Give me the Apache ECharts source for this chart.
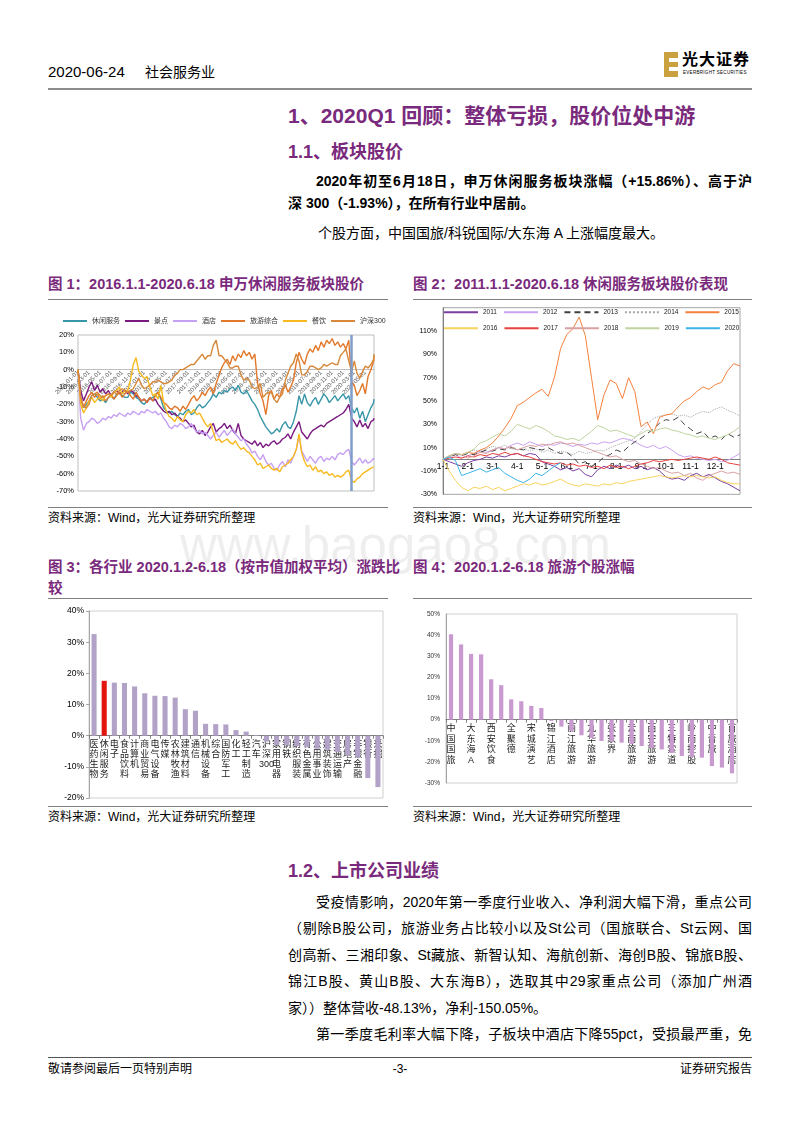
<!DOCTYPE html>
<html lang="zh-CN">
<head>
<meta charset="utf-8">
<title>社会服务业</title>
<script src="https://cdn.jsdelivr.net/npm/echarts@6.0.0/dist/echarts.min.js"></script>
<style>
html,body{margin:0;padding:0;background:#fff;}
#page{position:relative;width:800px;height:1132px;overflow:hidden;background:#fff;font-family:"Liberation Sans","Noto Sans CJK SC",sans-serif;color:#000;}
.t{position:absolute;white-space:nowrap;}
.ln{position:absolute;height:0;border-top:1px solid #808080;}
.pur{color:#7A2A7C;font-weight:bold;}
.fig{font-size:14.5px;line-height:20px;}
.src{font-size:12px;line-height:18px;}
.body{font-size:14px;line-height:22px;}
.j{white-space:normal;text-align:justify;text-align-last:justify;text-justify:inter-character;height:22px;overflow:hidden;}
.chart{position:absolute;}
</style>
</head>
<body>
<div id="page">
  <!-- watermark -->
  <div class="t" style="left:180px;top:520px;font-size:51px;line-height:51px;color:rgba(0,0,0,0.065);font-family:'Liberation Sans';">www.baogao8.com</div>

  <!-- header -->
  <div class="t" style="left:48px;top:62px;font-size:15px;line-height:20px;">2020-06-24</div>
  <div class="t" style="left:145px;top:62px;font-size:14px;line-height:20px;">社会服务业</div>
  <div style="position:absolute;left:664px;top:52px;width:14px;height:25px;background:#C9A23F;"></div>
  <div style="position:absolute;left:669px;top:58px;width:9px;height:4px;background:#fff;"></div>
  <div style="position:absolute;left:669px;top:67px;width:9px;height:4px;background:#fff;"></div>
  <div class="t" style="left:682px;top:50px;font-size:16px;line-height:20px;font-weight:bold;letter-spacing:1px;">光大证券</div>
  <div class="t" style="left:683px;top:70px;font-size:4.5px;line-height:6px;letter-spacing:0.3px;">EVERBRIGHT SECURITIES</div>
  <div class="ln" style="left:48px;top:88px;width:704px;border-top:2px solid #8C8C8C;"></div>

  <!-- section 1 -->
  <div class="t pur" style="left:288px;top:101px;font-size:21px;line-height:30px;">1、2020Q1 回顾：整体亏损，股价位处中游</div>
  <div class="t pur" style="left:288px;top:139px;font-size:18px;line-height:26px;">1.1、板块股价</div>
  <div class="t body j" style="left:316px;width:436px;top:170px;font-weight:bold;">2020年初至6月18日，申万休闲服务板块涨幅（+15.86%）、高于沪</div>
  <div class="t body" style="left:288px;top:192px;font-weight:bold;">深 300（-1.93%），在所有行业中居前。</div>
  <div class="t body" style="left:318px;top:222px;">个股方面，中国国旅/科锐国际/大东海 A 上涨幅度最大。</div>

  <!-- figure 1 / 2 titles -->
  <div class="t pur fig" style="left:48px;top:274px;">图 1：2016.1.1-2020.6.18 申万休闲服务板块股价</div>
  <div class="t pur fig" style="left:413px;top:274px;">图 2：2011.1.1-2020.6.18 休闲服务板块股价表现</div>
  <div class="ln" style="left:48px;top:299px;width:340px;"></div>
  <div class="ln" style="left:413px;top:299px;width:339px;"></div>
  <div id="c1" class="chart" style="left:48px;top:300px;width:340px;height:206px;"></div>
  <div id="c2" class="chart" style="left:413px;top:300px;width:339px;height:206px;"></div>
  <div class="ln" style="left:48px;top:507px;width:340px;"></div>
  <div class="ln" style="left:413px;top:507px;width:339px;"></div>
  <div class="t src" style="left:48px;top:509px;">资料来源：Wind，光大证券研究所整理</div>
  <div class="t src" style="left:413px;top:509px;">资料来源：Wind，光大证券研究所整理</div>

  <!-- figure 3 / 4 titles -->
  <div class="t pur fig" style="left:48px;top:557px;">图 3：各行业 2020.1.2-6.18（按市值加权平均）涨跌比</div>
  <div class="t pur fig" style="left:48px;top:578px;">较</div>
  <div class="t pur fig" style="left:413px;top:557px;">图 4：2020.1.2-6.18 旅游个股涨幅</div>
  <div class="ln" style="left:48px;top:598px;width:340px;"></div>
  <div class="ln" style="left:413px;top:598px;width:339px;"></div>
  <div id="c3" class="chart" style="left:48px;top:600px;width:340px;height:206px;"></div>
  <div id="c4" class="chart" style="left:413px;top:600px;width:339px;height:206px;"></div>
  <div class="ln" style="left:48px;top:806px;width:340px;"></div>
  <div class="ln" style="left:413px;top:806px;width:339px;"></div>
  <div class="t src" style="left:48px;top:808px;">资料来源：Wind，光大证券研究所整理</div>
  <div class="t src" style="left:413px;top:808px;">资料来源：Wind，光大证券研究所整理</div>

  <!-- section 1.2 -->
  <div class="t pur" style="left:288px;top:858px;font-size:18px;line-height:26px;">1.2、上市公司业绩</div>
  <div class="t body j" style="left:316px;width:436px;top:891px;">受疫情影响，2020年第一季度行业收入、净利润大幅下滑，重点公司</div>
  <div class="t body j" style="left:288px;width:464px;top:917px;">（剔除B股公司，旅游业务占比较小以及St公司（国旅联合、St云网、国</div>
  <div class="t body j" style="left:288px;width:464px;top:944px;">创高新、三湘印象、St藏旅、新智认知、海航创新、海创B股、锦旅B股、</div>
  <div class="t body j" style="left:288px;width:464px;top:970px;">锦江B股、黄山B股、大东海B），选取其中29家重点公司（添加广州酒</div>
  <div class="t body" style="left:288px;top:997px;">家））整体营收-48.13%，净利-150.05%。</div>
  <div class="t body j" style="left:316px;width:436px;top:1023px;">第一季度毛利率大幅下降，子板块中酒店下降55pct，受损最严重，免</div>

  <!-- footer -->
  <div class="ln" style="left:48px;top:1057px;width:704px;border-top:1px solid #555;"></div>
  <div class="t src" style="left:48px;top:1060px;">敬请参阅最后一页特别声明</div>
  <div class="t src" style="left:388px;top:1060px;width:24px;text-align:center;">-3-</div>
  <div class="t src" style="left:652px;top:1060px;width:100px;text-align:right;">证券研究报告</div>
</div>

<script>
// ================= DATA =================
// Figure 1: semi-monthly readings (1st and 16th of each month), 2016-01-01 .. 2020-06-18
const fig1Names = ['休闲服务', '景点', '酒店', '旅游综合', '餐饮', '沪深300'];
const leisure = [
  0,-16,-22,-20,-18,-15,-14,-16,-18,-17,-19,-16,-15,-17,-14,-13,-15,-16,-16,-13,-14,-16,-17,-19,
  -20,-18,-17,-16,-15,-13,-17,-22,-24,-25,-24,-26,-27,-25,-26,-24,-23,-26,-25,-22,-20,-22,-21,-19,
  -17,-14,-16,-13,-14,-12,-13,-11,-10,-12,-9,-13,-14,-12,-15,-18,-20,-23,-27,-30,-33,-35,-37,-36,
  -34,-36,-32,-30,-33,-34,-30,-24,-15,-20,-14,-19,-21,-18,-16,-20,-17,-14,-16,-19,-17,-15,-18,-16,
  -14,-17,-15,-22,-25,-22,-28,-24,-30,-26,-22,-19,-17];
const scenic = [
  0,-12,-18,-14,-10,-7,-12,-9,-13,-11,-14,-12,-15,-13,-12,-14,-13,-12,-14,-12,-13,-15,-16,-18,
  -17,-19,-16,-18,-17,-20,-22,-24,-25,-24,-26,-25,-27,-28,-30,-29,-31,-33,-32,-36,-37,-35,-38,-36,
  -33,-31,-36,-34,-33,-31,-34,-32,-35,-37,-31,-38,-40,-41,-42,-43,-41,-44,-42,-45,-43,-44,-42,-41,
  -43,-42,-40,-39,-37,-40,-36,-33,-30,-36,-38,-40,-37,-35,-34,-33,-32,-33,-31,-30,-29,-28,-27,-26,
  -25,-23,-20,-28,-30,-33,-29,-33,-31,-34,-30,-29,-28];
const hotel = [
  0,-28,-35,-31,-30,-28,-29,-31,-30,-28,-29,-27,-28,-26,-27,-25,-26,-27,-25,-26,-24,-25,-26,-24,
  -25,-23,-24,-25,-24,-26,-25,-28,-30,-33,-34,-32,-33,-31,-32,-34,-33,-31,-34,-36,-35,-37,-36,-38,
  -40,-38,-36,-39,-37,-35,-38,-36,-34,-37,-39,-41,-40,-43,-45,-48,-47,-50,-52,-49,-53,-55,-54,-57,
  -58,-55,-53,-56,-52,-54,-50,-46,-38,-47,-50,-53,-50,-52,-54,-51,-50,-53,-51,-52,-50,-52,-49,-48,
  -49,-47,-46,-53,-55,-53,-51,-54,-52,-54,-53,-51,-52];
const tourism = [
  0,-17,-22,-18,-15,-13,-16,-14,-17,-15,-18,-16,-14,-17,-15,-13,-16,-14,-12,-15,-17,-13,-16,-18,
  -17,-19,-16,-18,-15,-13,-16,-19,-20,-22,-23,-21,-22,-24,-21,-23,-20,-17,-15,-18,-16,-13,-15,-12,
  -10,-14,-8,-3,1,4,6,3,8,5,9,7,11,8,10,6,9,-8,-14,-18,-26,-15,-12,-17,
  -14,-16,-11,-9,-13,-10,-6,4,10,6,3,9,12,10,14,11,16,13,17,15,18,14,16,13,
  15,12,17,-7,-9,-15,-12,-8,-14,-4,0,5,8];
const catering = [
  0,-20,-25,-22,-18,-16,-19,-17,-16,-18,-15,-14,-16,-13,-12,-10,-14,-12,-12,-6,3,7,-1,-3,
  -5,-4,-10,-15,-14,-17,-9,-19,-24,-27,-28,-30,-27,-29,-30,-26,-24,-25,-23,-26,-25,-28,-31,-33,
  -31,-36,-41,-40,-42,-41,-40,-42,-43,-41,-44,-46,-45,-47,-48,-50,-52,-55,-54,-57,-56,-55,-57,-58,
  -57,-59,-56,-55,-54,-52,-50,-46,-37,-48,-53,-56,-55,-58,-56,-59,-58,-60,-59,-61,-60,-62,-61,-62,
  -61,-59,-58,-64,-65,-63,-62,-60,-59,-58,-57,-56,-56];
const hs300 = [
  0,-16,-21,-22,-20,-15,-14,-13,-15,-16,-15,-14,-15,-13,-14,-12,-11,-12,-13,-12,-11,-8,-5,-9,
  -11,-10,-9,-7,-7,-6,-7,-8,-8,-7,-6,-3,-2,0,0,1,2,3,3,5,7,9,6,8,
  8,14,17,8,8,6,4,1,1,2,2,-3,-6,-5,-6,-10,-11,-10,-8,-16,-14,-13,-13,-17,
  -19,-16,-14,-6,-2,2,4,9,5,-3,-3,-1,2,2,1,0,1,3,2,3,4,3,3,8,
  10,12,5,-1,5,-2,-5,-1,2,1,3,6,9];
const fig1Start = '2016-01-01';
const fig1End = '2020-06-18';
const fig1EventDate = '2020-02-12';

// Figure 2: readings every quarter-month from 1-1 to 12-31
const fig2Years = ['2011','2012','2013','2014','2015','2016','2017','2018','2019','2020'];
const y2011 = [0,-2,-4,-6,-3,-1,0,2,1,3,2,4,5,3,5,4,-2,-4,-6,-9,-7,-10,-8,-13,-15,-9,-6,-8,-5,-7,-5,-8,-6,-9,-7,-10,-15,-17,-16,-18,-14,-12,-15,-13,-16,-19,-21,-24,-27];
const y2012 = [0,2,4,1,3,5,7,6,8,10,9,12,14,12,15,13,11,13,12,14,13,11,13,12,14,13,15,14,16,18,17,15,12,10,12,9,11,8,4,2,3,1,0,-1,0,-2,-1,2,5];
const y2013 = [0,2,4,3,5,4,6,8,7,9,8,10,9,8,10,9,8,10,7,5,6,2,-4,-2,-6,-3,2,4,8,6,11,15,18,22,26,31,34,33,36,30,26,22,24,18,20,17,22,19,21];
const y2014 = [0,2,5,3,6,8,7,9,11,10,12,9,8,10,7,9,6,8,5,7,6,4,7,5,6,8,7,10,12,14,16,18,24,30,35,37,38,39,37,38,36,39,41,40,43,45,42,40,37];
const y2015 = [0,3,5,4,6,5,8,10,14,20,27,35,46,49,53,57,60,54,70,95,107,112,122,106,70,34,55,68,65,52,70,58,28,32,22,36,38,39,45,50,53,58,62,60,64,66,76,82,80];
const y2016 = [0,-10,-18,-24,-27,-24,-25,-23,-26,-24,-27,-25,-23,-21,-22,-20,-22,-21,-19,-17,-20,-22,-23,-21,-22,-23,-21,-22,-20,-21,-19,-18,-17,-16,-15,-14,-15,-16,-15,-14,-15,-14,-15,-16,-15,-18,-20,-21,-21];
const y2017 = [0,1,2,1,3,2,4,3,5,4,6,4,5,3,2,0,-2,-3,-4,-3,-5,-4,-6,-5,-7,-6,-8,-5,-7,-6,-8,-6,-4,-3,-1,-2,-1,0,-1,0,1,2,1,0,2,0,-3,-4,-5];
const y2018 = [0,3,5,4,1,3,6,5,8,10,9,11,8,10,12,11,13,12,14,15,13,14,12,10,8,6,4,2,3,0,-2,-1,-4,-6,-8,-7,-10,-12,-11,-14,-12,-16,-18,-14,-12,-10,-12,-11,-13];
const y2019 = [0,3,5,4,6,9,14,16,19,22,20,24,30,28,26,29,27,24,20,19,17,18,16,20,24,29,27,24,25,23,21,19,22,25,24,26,27,25,24,22,21,19,20,18,17,19,21,24,28];
const y2020 = [0,2,-1,-14,-12,-10,-8,-11,-9,-7,-12,-15,-18,-20,-17,-12,-14,-10,-6,-3];
const fig2Values = [y2011, y2012, y2013, y2014, y2015, y2016, y2017, y2018, y2019, y2020];

// Figure 3: industries
const industries = ['医药生物','休闲服务','电子','食品饮料','计算机','商业贸易','电气设备','传媒','农林牧渔','建筑材料','通信','机械设备','综合','国防军工','化工','轻工制造','汽车','沪深300','家用电器','钢铁','纺织服装','有色金属','公用事业','建筑装饰','交通运输','房地产','非银金融','银行','采掘'];
const industryChange = [32.6,17.6,17.0,16.9,15.8,13.6,12.8,12.7,12.2,8.5,8.0,3.8,3.7,3.6,1.8,1.3,0.2,-1.9,-3.0,-3.1,-3.3,-3.7,-4.2,-4.5,-5.3,-6.3,-7.0,-13.6,-16.5];
const highlightIndustry = '休闲服务';

// Figure 4: tourism stocks
const stocks = ['中国国旅','科锐国际','大东海A','天目湖','西安饮食','峨眉山A','全聚德','桂林旅游','宋城演艺','黄山旅游','锦江酒店','金陵饭店','丽江旅游','华天酒店','九华旅游','长白山','张家界','众信旅游','云南旅游','曲江文旅','西安旅游','凯撒旅业','三特索道','西藏旅游','岭南控股','腾邦国际','中青旅','大连圣亚','首旅酒店'];
const stockChange = [40.4,35.6,31.1,30.9,19.1,16.3,9.6,8.7,6.5,5.5,-0.6,-3.3,-5.5,-7.4,-8.6,-10.1,-10.4,-10.9,-11.6,-12.5,-13.4,-14.1,-15.8,-17.2,-17.6,-18.0,-22.0,-22.7,-25.4];

// ================= BUILD =================
const FONT = 'Liberation Sans, Noto Sans CJK SC, sans-serif';
function pad(n){ return (n < 10 ? '0' : '') + n; }
function monthIndex(s){
  const p = s.split('-').map(Number);
  const dim = new Date(p[0], p[1], 0).getDate();
  return (p[0] - 2016) * 12 + (p[1] - 1) + (p[2] - 1) / dim;
}
// offset that moves a bottom x axis (line + labels) up to the value 0 of the y axis
function zeroOffset(el, grid, min, max) {
  const h = el.clientHeight - grid.top - grid.bottom;
  return -h * (0 - min) / (max - min);
}
const noSymbolLegend = { opacity: 0, borderWidth: 0 };

const fig1Dates = [];
for (let y = 2016; y <= 2020; y++) {
  for (let m = 1; m <= 12; m++) {
    if (y === 2020 && m > 6) break;
    fig1Dates.push(y + '-' + pad(m) + '-01', y + '-' + pad(m) + '-16');
  }
}
fig1Dates.push(fig1End);
const fig1X = fig1Dates.map(monthIndex);
const fig1Series = [leisure, scenic, hotel, tourism, catering, hs300];
const fig1Colors = ['#3796A8', '#7A1A80', '#C6A0F2', '#E2782A', '#F7BA1E', '#D8883A'];

const el1 = document.getElementById('c1');
const c1 = echarts.init(el1);
const g1 = { left: 30, right: 14, top: 35, bottom: 15 };
c1.setOption({
  animation: false,
  textStyle: { fontFamily: FONT },
  legend: {
    left: 14, top: 17.5, padding: 0, width: 326, itemWidth: 24, itemHeight: 7, itemGap: 4,
    itemStyle: noSymbolLegend,
    textStyle: { fontSize: 7, color: '#333' },
    data: fig1Names
  },
  grid: Object.assign({ show: true, borderColor: '#BFBFBF', borderWidth: 1 }, g1),
  xAxis: {
    type: 'value', min: monthIndex(fig1Start), max: monthIndex(fig1End), interval: 2,
    position: 'bottom', offset: zeroOffset(el1, g1, -70, 20),
    axisLine: { onZero: false, lineStyle: { color: '#BFBFBF', width: 1 } },
    axisTick: { show: false }, splitLine: { show: false },
    axisLabel: {
      rotate: 45, fontSize: 6, color: '#595959', margin: 2, showMaxLabel: false,
      formatter: function (v) { const y = 2016 + Math.floor(v / 12); const m = Math.round(v % 12) + 1; return y + '-' + pad(m) + '-01'; }
    }
  },
  yAxis: {
    type: 'value', min: -70, max: 20, interval: 10,
    axisLine: { show: false }, axisTick: { show: false }, splitLine: { show: false },
    axisLabel: { formatter: '{value}%', fontSize: 7.5, color: '#000', margin: 4 }
  },
  series: fig1Names.map(function (name, i) {
    const s = {
      name: name, type: 'line', symbol: 'none', smooth: false,
      lineStyle: { width: 1.4, color: fig1Colors[i] }, itemStyle: { color: fig1Colors[i] },
      data: fig1Series[i].map(function (v, k) { return [fig1X[k], v]; })
    };
    if (i === 0) {
      s.markLine = { silent: true, symbol: 'none', label: { show: false },
        lineStyle: { color: '#7F9CCB', width: 2.5, type: 'solid' },
        data: [{ xAxis: monthIndex(fig1EventDate) }] };
    }
    return s;
  })
});

// Figure 2
const fig2X = [];
for (let i = 0; i <= 48; i++) fig2X.push(i / 4);
const fig2Colors = ['#7B3FA0', '#C9A3F0', '#404040', '#A6A6A6', '#F4813C', '#F8D35E', '#E8413F', '#D9A0A0', '#BFD3A0', '#3CB4E6'];
const fig2Types = ['solid', 'solid', [6, 4], 'dotted', 'solid', 'solid', 'solid', 'solid', 'solid', 'solid'];
const el2 = document.getElementById('c2');
const c2 = echarts.init(el2);
const g2 = { left: 30, right: 12, top: 7.7, bottom: 11.7 };
const legendBase = { padding: 0, itemWidth: 34, itemHeight: 8, itemGap: 6, itemStyle: noSymbolLegend, textStyle: { fontSize: 6.5, color: '#222' } };
c2.setOption({
  animation: false,
  textStyle: { fontFamily: FONT },
  legend: [
    Object.assign({ left: 30, top: 9, data: fig2Years.slice(0, 5) }, legendBase),
    Object.assign({ left: 30, top: 25, data: fig2Years.slice(5) }, legendBase)
  ],
  grid: Object.assign({ show: true, borderColor: '#A6A6A6', borderWidth: 1 }, g2),
  xAxis: {
    type: 'value', min: 0, max: 12, interval: 1,
    position: 'bottom', offset: zeroOffset(el2, g2, -30, 130),
    axisLine: { onZero: false, lineStyle: { color: '#808080', width: 1 } },
    axisTick: { show: false }, splitLine: { show: false },
    axisLabel: { fontSize: 8.5, color: '#000', margin: 3, showMaxLabel: false,
      formatter: function (v) { return (v + 1) + '-1'; } }
  },
  yAxis: {
    type: 'value', min: -30, max: 130, interval: 20,
    axisLine: { show: true, lineStyle: { color: '#808080' } }, axisTick: { show: false }, splitLine: { show: false },
    axisLabel: { formatter: '{value}%', fontSize: 7, color: '#000', margin: 6, showMaxLabel: false }
  },
  series: fig2Years.map(function (name, i) {
    return {
      name: name, type: 'line', symbol: 'none',
      lineStyle: { width: 1, color: fig2Colors[i], type: fig2Types[i] }, itemStyle: { color: fig2Colors[i] },
      data: fig2Values[i].map(function (v, k) { return [fig2X[k], v]; })
    };
  })
});

// vertical stacked label
function stackLabel(name) { return name.match(/[0-9]+|[A-Za-z]|./g).join('\n'); }

// Figure 3
const el3 = document.getElementById('c3');
const c3 = echarts.init(el3);
const g3 = { left: 41, right: 5, top: 11, bottom: 8 };
c3.setOption({
  animation: false,
  textStyle: { fontFamily: FONT },
  grid: Object.assign({ show: true, borderColor: '#D0D0D0', borderWidth: 1 }, g3),
  xAxis: {
    type: 'category', data: industries,
    position: 'bottom', offset: zeroOffset(el3, g3, -20, 40),
    axisLine: { onZero: false, lineStyle: { color: '#808080' } },
    axisTick: { show: true, length: 3, lineStyle: { color: '#808080' } },
    axisLabel: { interval: 0, fontSize: 9, lineHeight: 10, color: '#222', margin: 4, formatter: stackLabel }
  },
  yAxis: {
    type: 'value', min: -20, max: 40, interval: 10,
    axisLine: { show: true, lineStyle: { color: '#A6A6A6' } },
    axisTick: { show: true, length: 3, lineStyle: { color: '#A6A6A6' } }, splitLine: { show: false },
    axisLabel: { formatter: '{value}%', fontSize: 8.5, color: '#000', margin: 5 }
  },
  series: [{
    type: 'bar', barWidth: '50%',
    data: industryChange.map(function (v, i) {
      return { value: v, itemStyle: { color: industries[i] === highlightIndustry ? '#E3150F' : '#B3A2C7' } };
    })
  }]
});

// Figure 4
const el4 = document.getElementById('c4');
const c4 = echarts.init(el4);
const g4 = { left: 33, right: 15, top: 14, bottom: 23 };
c4.setOption({
  animation: false,
  textStyle: { fontFamily: FONT },
  grid: Object.assign({ show: true, borderColor: '#D0D0D0', borderWidth: 1 }, g4),
  xAxis: {
    type: 'category', data: stocks,
    position: 'bottom', offset: zeroOffset(el4, g4, -30, 50),
    axisLine: { onZero: false, lineStyle: { color: '#808080' } },
    axisTick: { show: true, length: 3, interval: 0, lineStyle: { color: '#808080' } },
    axisLabel: { interval: 1, fontSize: 9, lineHeight: 10.5, color: '#222', margin: 4, formatter: stackLabel }
  },
  yAxis: {
    type: 'value', min: -30, max: 50, interval: 10,
    axisLine: { show: true, lineStyle: { color: '#A6A6A6' } },
    axisTick: { show: false }, splitLine: { show: false },
    axisLabel: { formatter: '{value}%', fontSize: 6.5, color: '#333', margin: 6 }
  },
  series: [{ type: 'bar', barWidth: '42%', itemStyle: { color: '#C99AD0' }, data: stockChange }]
});
</script>
</body>
</html>
